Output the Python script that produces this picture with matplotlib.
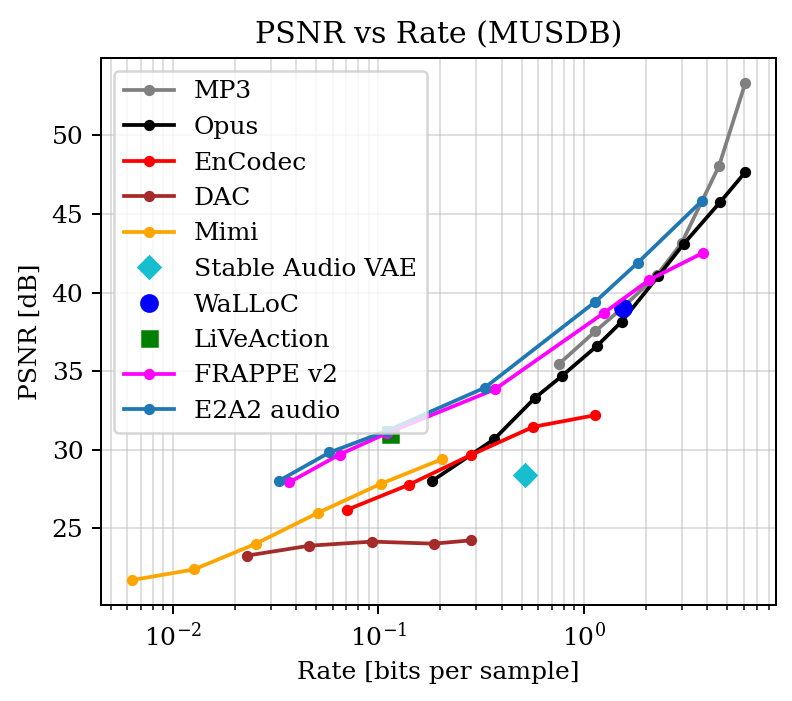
import matplotlib
matplotlib.use("Agg")
import matplotlib.pyplot as plt

plt.rcParams['font.family'] = ['DejaVu Serif']

mp3_rate = [0.758, 1.137, 1.52, 2.27, 3.0, 4.56, 6.12]
mp3_psnr = [35.46, 37.53, 38.95, 41.1, 43.16, 48.06, 53.34]

opus_rate = [0.183, 0.367, 0.578, 0.781, 1.166, 1.53, 2.31, 3.08, 4.62, 6.12]
opus_psnr = [28.02, 30.68, 33.29, 34.68, 36.63, 38.15, 41.06, 43.12, 45.76, 47.66]

encodec_rate = [0.0704, 0.1406, 0.2817, 0.568, 1.135]
encodec_psnr = [26.18, 27.77, 29.66, 31.46, 32.2]

dac_rate = [0.023, 0.0462, 0.0932, 0.186, 0.282]
dac_psnr = [23.27, 23.9, 24.16, 24.03, 24.24]

mimi_rate = [0.00631, 0.0127, 0.0254, 0.0509, 0.1026, 0.205]
mimi_psnr = [21.71, 22.39, 24.03, 25.99, 27.83, 29.41]

sa_rate = [0.517]
sa_psnr = [28.4]

walloc_rate = [1.55]
walloc_psnr = [38.99]

liveaction_rate = [0.1138]
liveaction_psnr = [31.0]

frappe_rate = [0.0369, 0.0648, 0.11, 0.369, 1.262, 2.08, 3.81]
frappe_psnr = [27.93, 29.70, 31.05, 33.84, 38.73, 40.80, 42.53]

e2a2_rate = [0.0328, 0.0579, 0.11, 0.330, 1.135, 1.834, 3.76]
e2a2_psnr = [28.02, 29.83, 31.2, 33.95, 39.4, 41.9, 45.83]

DPI = 180
fig = plt.figure(figsize=(792 / DPI, 701 / DPI), dpi=DPI)
ax = fig.add_axes([101 / 792, 1 - 605 / 701, (776 - 101) / 792, (605 - 58) / 701])

ax.plot(mp3_rate, mp3_psnr, '-o', color='gray', markersize=3.5, label='MP3')
ax.plot(opus_rate, opus_psnr, '-o', color='black', markersize=3.5, label='Opus')
ax.plot(encodec_rate, encodec_psnr, '-o', color='red', markersize=3.5, label='EnCodec')
ax.plot(dac_rate, dac_psnr, '-o', color='brown', markersize=3.5, label='DAC')
ax.plot(mimi_rate, mimi_psnr, '-o', color='orange', markersize=3.5, label='Mimi')
ax.plot(sa_rate, sa_psnr, 'D', color='tab:cyan', markersize=6.5, linestyle='none', label='Stable Audio VAE')
ax.plot(walloc_rate, walloc_psnr, 'o', color='blue', markersize=6.5, linestyle='none', label='WaLLoC')
ax.plot(liveaction_rate, liveaction_psnr, 's', color='green', markersize=6, linestyle='none', label='LiVeAction')
ax.plot(frappe_rate, frappe_psnr, '-o', color='magenta', markersize=3.5, label='FRAPPE v2')
ax.plot(e2a2_rate, e2a2_psnr, '-o', color='tab:blue', markersize=3.5, label='E2A2 audio')

ax.set_xscale('log')
ax.grid(True, which='both', alpha=0.4)
ax.set_xlabel('Rate [bits per sample]')
ax.set_ylabel('PSNR [dB]')
ax.set_title('PSNR vs Rate (MUSDB)')
ax.legend(loc='upper left')

fig.savefig('out.png', dpi=DPI)
